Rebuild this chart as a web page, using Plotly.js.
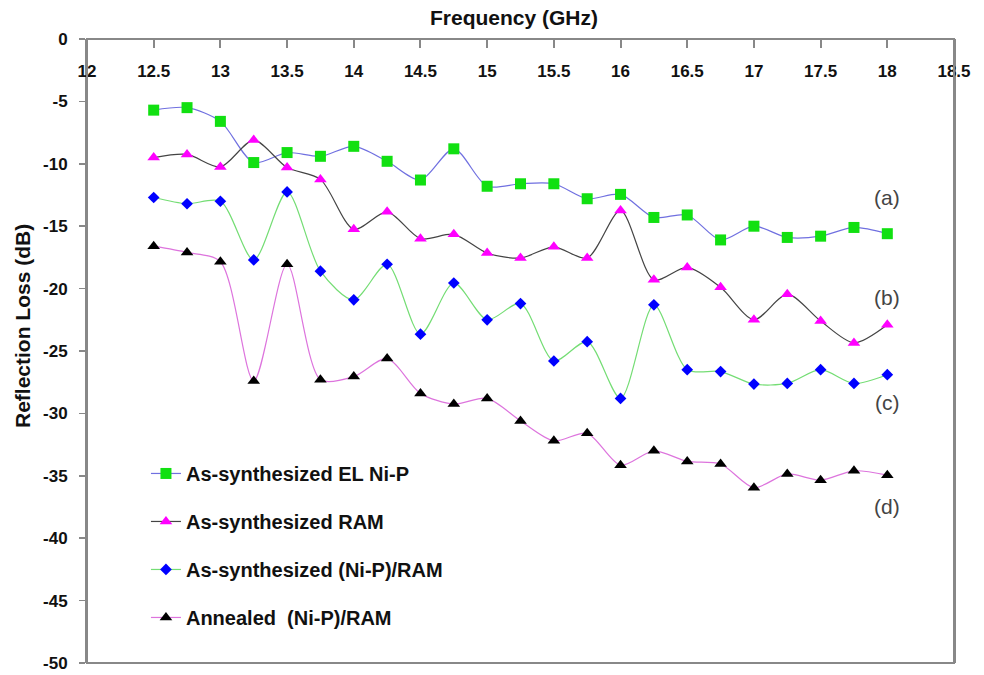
<!DOCTYPE html>
<html>
<head>
<meta charset="utf-8">
<script src="https://cdn.plot.ly/plotly-3.0.1.min.js"></script>
<style>html,body{margin:0;padding:0;background:#fff;}#chart{width:984px;height:675px;}</style>
</head>
<body>
<div id="chart"></div>
<script>
const frequency = [12.5,12.75,13,13.25,13.5,13.75,14,14.25,14.5,14.75,15,15.25,15.5,15.75,16,16.25,16.5,16.75,17,17.25,17.5,17.75,18];
const elNiP = [-5.7,-5.5,-6.6,-9.9,-9.1,-9.4,-8.6,-9.8,-11.3,-8.8,-11.8,-11.6,-11.6,-12.8,-12.45,-14.3,-14.1,-16.1,-15.0,-15.9,-15.8,-15.1,-15.6];
const ram = [-9.5,-9.25,-10.25,-8.1,-10.3,-11.25,-15.25,-13.85,-16.0,-15.65,-17.15,-17.55,-16.65,-17.55,-13.75,-19.3,-18.3,-19.9,-22.5,-20.45,-22.6,-24.35,-22.9];
const niPRam = [-12.7,-13.2,-13.0,-17.7,-12.25,-18.6,-20.9,-18.05,-23.65,-19.55,-22.5,-21.2,-25.8,-24.25,-28.8,-21.3,-26.5,-26.65,-27.65,-27.6,-26.5,-27.6,-26.9];
const annealed = [-16.6,-17.1,-17.85,-27.4,-18.05,-27.3,-27.05,-25.6,-28.4,-29.25,-28.8,-30.6,-32.2,-31.6,-34.15,-33.0,-33.85,-34.05,-35.95,-34.85,-35.35,-34.6,-34.95];
const seriesNames = ['As-synthesized EL Ni-P','As-synthesized RAM','As-synthesized (Ni-P)/RAM','Annealed  (Ni-P)/RAM'];
const curveLabels = ['(a)','(b)','(c)','(d)'];
const curveLabelX = [18,18,18,18];
const curveLabelY = [-12.7,-20.7,-29.15,-37.45];
const xTitle = 'Frequency (GHz)';
const yTitle = 'Reflection Loss (dB)';
const xTickVals = [12,12.5,13,13.5,14,14.5,15,15.5,16,16.5,17,17.5,18,18.5];
const xTickText = ['12','12.5','13','13.5','14','14.5','15','15.5','16','16.5','17','17.5','18','18.5'];
const yTickVals = [0,-5,-10,-15,-20,-25,-30,-35,-40,-45,-50];
const yTickText = ['0','-5','-10','-15','-20','-25','-30','-35','-40','-45','-50'];

const FONT = 'Liberation Sans, Arial, sans-serif';
function tr(y, name, lineColor, mColor, sym, size, grp) {
  return {x: frequency, y: y, name: name, type: 'scatter', mode: 'lines+markers',
    legendgroup: grp,
    line: {color: lineColor, width: 1.2, shape: 'spline', smoothing: 0.8},
    marker: {color: mColor, symbol: sym, size: size, line: {width: 0}}};
}
const data = [
  tr(elNiP, seriesNames[0], '#7070e0', '#11e011', 'square', 11, 'a'),
  tr(ram, seriesNames[1], '#444444', '#ff00ff', 'triangle-up', 11, 'b'),
  tr(niPRam, seriesNames[2], '#74dd74', '#0000ff', 'diamond', 9, 'c'),
  tr(annealed, seriesNames[3], '#dd74dd', '#000000', 'triangle-up', 11, 'd')
];
const annotations = curveLabels.map((t, i) => ({x: curveLabelX[i], y: curveLabelY[i], xref: 'x', yref: 'y',
  text: t, showarrow: false, font: {family: FONT, size: 21, color: '#444'}}));
annotations.push({x: 0.492, y: 1.035, xref: 'paper', yref: 'paper', xanchor: 'center', yanchor: 'middle',
  text: xTitle, showarrow: false, font: {family: FONT, size: 21, color: '#111', weight: 'bold'}});
annotations.push({x: -0.075, y: 0.54, xref: 'paper', yref: 'paper', xanchor: 'center', yanchor: 'middle',
  textangle: -90, text: yTitle, showarrow: false, font: {family: FONT, size: 21, color: '#111', weight: 'bold'}});
const layout = {
  width: 984, height: 675,
  margin: {l: 87, r: 30, t: 39, b: 12},
  paper_bgcolor: '#fff', plot_bgcolor: '#fff',
  showlegend: true,
  legend: {x: 0.068, y: 0.335, xanchor: 'left', yanchor: 'top', traceorder: 'grouped', tracegroupgap: 19,
    font: {family: FONT, size: 20, color: '#111', weight: 'bold'}, bgcolor: 'rgba(0,0,0,0)'},
  xaxis: {side: 'bottom', anchor: 'free', position: 1, range: [12, 18.5], tickvals: xTickVals, ticktext: xTickText,
    ticks: 'outside', ticklen: 8, tickwidth: 2, tickcolor: '#888', ticklabelstandoff: 9,
    showline: true, linecolor: '#888', linewidth: 2, showgrid: false, zeroline: false,
    tickfont: {family: FONT, size: 17, color: '#111', weight: 'bold'}},
  yaxis: {range: [-50, 0], tickvals: yTickVals, ticktext: yTickText,
    ticks: 'outside', ticklen: 6, tickwidth: 1.5, tickcolor: '#888', ticklabelstandoff: 8,
    showline: true, linecolor: '#888', linewidth: 2, mirror: true, showgrid: false, zeroline: false,
    tickfont: {family: FONT, size: 17, color: '#111', weight: 'bold'}},
  shapes: [{type: 'rect', xref: 'paper', yref: 'paper', x0: 0, x1: 1, y0: 0, y1: 1, line: {color: '#888', width: 2}}],
  annotations: annotations
};
Plotly.newPlot('chart', data, layout, {displayModeBar: false, staticPlot: true});
</script>
</body>
</html>
